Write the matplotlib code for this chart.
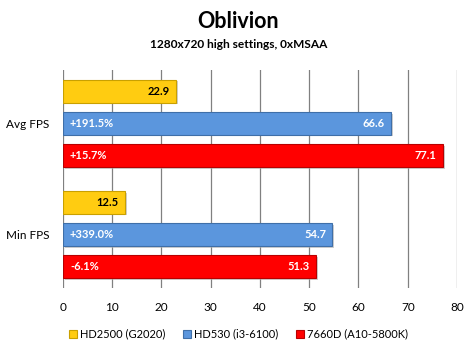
import matplotlib
matplotlib.use("Agg")
import matplotlib.pyplot as plt
import numpy as np

categories = ["Avg FPS", "Min FPS"]
series_names = ["HD2500 (G2020)", "HD530 (i3-6100)", "7660D (A10-5800K)"]
hd2500 = [22.9, 12.5]
hd530 = [66.6, 54.7]
r7660d = [77.1, 51.3]
hd530_pct = ["+191.5%", "+339.0%"]
r7660d_pct = ["+15.7%", "-6.1%"]
xticks = [0, 10, 20, 30, 40, 50, 60, 70, 80]

plt.rcParams['font.family'] = ['Lato', 'DejaVu Sans']

fig = plt.figure(figsize=(4.77, 3.53), dpi=100)
ax = fig.add_axes([63/477, 1-288/353, (457-63)/477, (288-70)/353])

colors = ["#FFCC11", "#5B96DD", "#FF0000"]
edges = ["#C9A000", "#3F6FA8", "#B80000"]
offsets = [0.29, 0.0, -0.29]
ypos = np.array([1, 0])
h = 0.205
data = [hd2500, hd530, r7660d]
for i, (vals, c, e, off) in enumerate(zip(data, colors, edges, offsets)):
    # shadow
    ax.barh(ypos + off - 0.015, vals, height=h, left=0.4, color="#b0b0b0", alpha=0.6, zorder=2)
    ax.barh(ypos + off, vals, height=h, color=c, edgecolor=e, linewidth=0.8, zorder=3,
            label=series_names[i])
    for j, v in enumerate(vals):
        tc = "black" if i == 0 else "white"
        ax.text(v - 1.2, ypos[j] + off, f"{v:.1f}", ha="right", va="center",
                fontsize=8, fontweight="bold", color=tc, zorder=4)
pcts = [None, hd530_pct, r7660d_pct]
for i in (1, 2):
    for j in range(2):
        ax.text(1.4, ypos[j] + offsets[i], pcts[i][j], ha="left", va="center",
                fontsize=8, fontweight="bold", color="white", zorder=4)

ax.set_xlim(0, 80)
ax.set_ylim(-0.48, 1.48)
ax.set_xticks(xticks)
ax.set_yticks(ypos)
ax.set_yticklabels(categories, fontsize=8.5)
ax.tick_params(axis='y', length=0, pad=10)
ax.tick_params(axis='x', length=0, pad=10, labelsize=8.5)
ax.grid(axis='x', color="#808080", linewidth=0.9, zorder=0)
ax.set_axisbelow(True)
for s in ax.spines.values():
    s.set_visible(False)

fig.text(0.5, 1-22/353, "Oblivion", ha="center", va="center", fontsize=15.5, fontweight="bold")
fig.text(0.5, 1-45/353, "1280x720 high settings, 0xMSAA", ha="center", va="center",
         fontsize=8.6, fontweight="bold")

handles = [plt.Rectangle((0, 0), 1, 1, facecolor=c, edgecolor=e, linewidth=0.8)
           for c, e in zip(colors, edges)]
fig.legend(handles, series_names, loc="center", bbox_to_anchor=(0.5, 1-334/353),
           ncol=3, frameon=False, fontsize=8, handlelength=0.7, handleheight=0.7,
           handletextpad=0.3, columnspacing=1.6)

fig.savefig("out.png", dpi=100, facecolor="white")
